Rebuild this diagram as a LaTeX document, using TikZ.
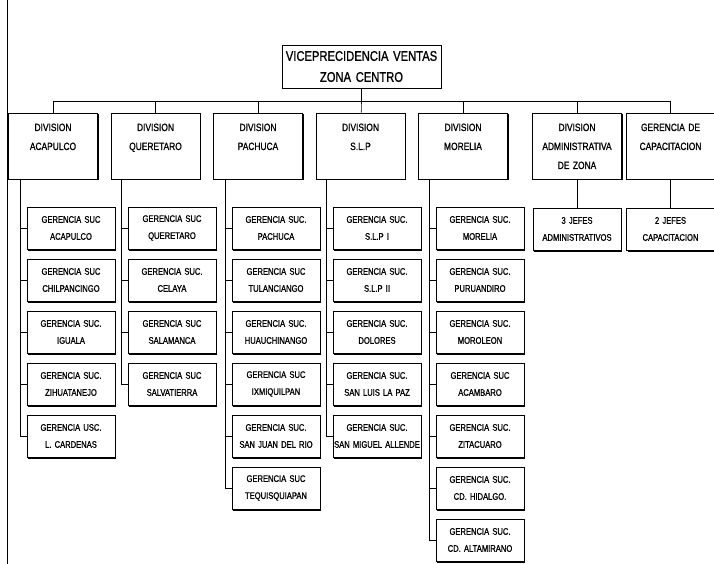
\documentclass[tikz,border=0pt]{standalone}
\usepackage{fontspec}
\setmainfont{Liberation Sans}[FakeStretch=0.8,FakeBold=1]
\usetikzlibrary{shadows}
\begin{document}
\begin{tikzpicture}[x=1pt,y=-1pt,line width=0.6]
\tikzstyle{Box} = [draw, fill=white, line width=0.6, align=center, drop shadow={shadow xshift=1pt, shadow yshift=-1.5pt, opacity=1, fill=black}]
\tikzstyle{Top} = [Box, text width=157, minimum width=159, minimum height=43, inner sep=1, font={\fontsize{14}{21}\selectfont}]
\tikzstyle{Div} = [Box, text width=83, minimum width=89, inner xsep=3, inner ysep=4, text height=14, text depth=44, font={\fontsize{10.5}{19}\selectfont}]
\tikzstyle{Suc} = [Box, text width=86, minimum width=88, minimum height=42, inner xsep=1, inner ysep=2, font={\fontsize{9.5}{17}\selectfont}]
\tikzstyle{inv} = [outer sep=0,inner sep=0,minimum size=0]
\useasboundingbox (0,0) rectangle (714,564);
\node [inv] (e1) at (7,0) {};
\node [inv] (e2) at (7,564) {};
\draw (e1) -- (e2);
\node [Top] (v0) at (361.5,66.5) {VICEPRECIDENCIA VENTAS\\ZONA CENTRO};
\node [inv] (b0) at (361.5,101) {};
\node [Div] (d1) at (53,146) {DIVISION\\ACAPULCO};
\node [Div] (d2) at (155.5,146) {DIVISION\\QUERETARO};
\node [Div] (d3) at (258,146) {DIVISION\\PACHUCA};
\node [Div] (d4) at (360.5,146) {DIVISION\\S.L.P};
\node [Div] (d5) at (463,146) {DIVISION\\MORELIA};
\node [Div] (d6) at (577,146) {DIVISION\\ADMINISTRATIVA\\DE ZONA};
\node [Div] (d7) at (670.5,146) {GERENCIA DE\\CAPACITACION};
\node [Suc] (a1) at (71,228) {GERENCIA SUC\\ACAPULCO};
\node [Suc] (a2) at (71,280) {GERENCIA SUC\\CHILPANCINGO};
\node [Suc] (a3) at (71,332) {GERENCIA SUC.\\IGUALA};
\node [Suc] (a4) at (71,384) {GERENCIA SUC.\\ZIHUATANEJO};
\node [Suc] (a5) at (71,436) {GERENCIA USC.\\L. CARDENAS};
\node [Suc] (q1) at (172,228) {GERENCIA SUC\\QUERETARO};
\node [Suc] (q2) at (172,280) {GERENCIA SUC.\\CELAYA};
\node [Suc] (q3) at (172,332) {GERENCIA SUC\\SALAMANCA};
\node [Suc] (q4) at (172,384) {GERENCIA SUC\\SALVATIERRA};
\node [Suc] (p1) at (276,228) {GERENCIA SUC.\\PACHUCA};
\node [Suc] (p2) at (276,280) {GERENCIA SUC\\TULANCIANGO};
\node [Suc] (p3) at (276,332) {GERENCIA SUC.\\HUAUCHINANGO};
\node [Suc] (p4) at (276,384) {GERENCIA SUC\\IXMIQUILPAN};
\node [Suc] (p5) at (276,436) {GERENCIA SUC.\\SAN JUAN DEL RIO};
\node [Suc] (p6) at (276,488) {GERENCIA SUC\\TEQUISQUIAPAN};
\node [Suc] (s1) at (377,228) {GERENCIA SUC.\\S.L.P I};
\node [Suc] (s2) at (377,280) {GERENCIA SUC.\\S.L.P II};
\node [Suc] (s3) at (377,332) {GERENCIA SUC.\\DOLORES};
\node [Suc] (s4) at (377,384) {GERENCIA SUC.\\SAN LUIS LA PAZ};
\node [Suc] (s5) at (377,436) {GERENCIA SUC.\\SAN MIGUEL ALLENDE};
\node [Suc] (m1) at (480,228) {GERENCIA SUC.\\MORELIA};
\node [Suc] (m2) at (480,280) {GERENCIA SUC.\\PURUANDIRO};
\node [Suc] (m3) at (480,332) {GERENCIA SUC.\\MOROLEON};
\node [Suc] (m4) at (480,384) {GERENCIA SUC\\ACAMBARO};
\node [Suc] (m5) at (480,436) {GERENCIA SUC.\\ZITACUARO};
\node [Suc] (m6) at (480,488) {GERENCIA SUC.\\CD. HIDALGO.};
\node [Suc] (m7) at (480,540) {GERENCIA SUC.\\CD. ALTAMIRANO};
\node [Suc] (j1) at (577,229) {3 JEFES\\ADMINISTRATIVOS};
\node [Suc] (j2) at (670.5,229) {2 JEFES\\CAPACITACION};
\node [inv] (la) at (20,179) {};
\node [inv] (lq) at (121,179) {};
\node [inv] (lp) at (225,179) {};
\node [inv] (ls) at (326,179) {};
\node [inv] (lm) at (429,179) {};
\draw (v0) -- (b0);
\draw (d1) |- (b0) -| (d7);
\draw (b0) -| (d2);
\draw (b0) -| (d3);
\draw (b0) -- (d4);
\draw (b0) -| (d5);
\draw (b0) -| (d6);
\draw (d6) -- (j1);
\draw (d7) -- (j2);
\draw (la) |- (a1) (la) |- (a2) (la) |- (a3) (la) |- (a4) (la) |- (a5);
\draw (lq) |- (q1) (lq) |- (q2) (lq) |- (q3) (lq) |- (q4);
\draw (lp) |- (p1) (lp) |- (p2) (lp) |- (p3) (lp) |- (p4) (lp) |- (p5) (lp) |- (p6);
\draw (ls) |- (s1) (ls) |- (s2) (ls) |- (s3) (ls) |- (s4) (ls) |- (s5);
\draw (lm) |- (m1) (lm) |- (m2) (lm) |- (m3) (lm) |- (m4) (lm) |- (m5) (lm) |- (m6) (lm) |- (m7);
\end{tikzpicture}
\end{document}
